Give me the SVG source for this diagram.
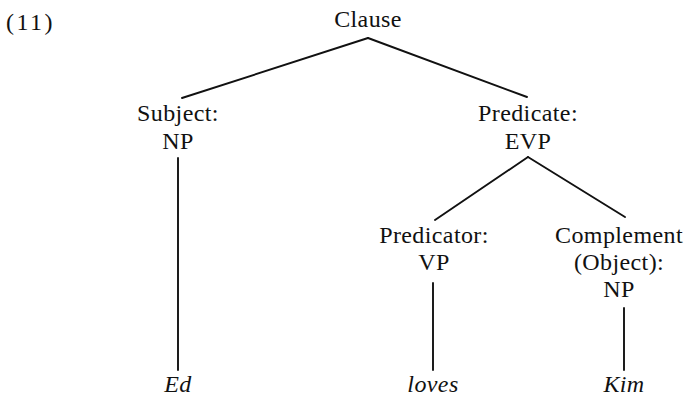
<svg xmlns="http://www.w3.org/2000/svg" width="690" height="396" viewBox="0 0 690 396">
  <style>
    text { font-family: "Liberation Serif", "Times New Roman", serif; font-size: 24px; fill: #111111; text-anchor: middle; letter-spacing: 0.4px; }
    .it { font-style: italic; }
    .num { text-anchor: start; font-size: 24px; letter-spacing: 2.5px; }
    .edge { stroke: #111111; stroke-width: 1.9; fill: none; stroke-linecap: round; }
  </style>
  <rect width="690" height="396" fill="#ffffff"/>

  <!-- example number -->
  <text class="num" x="6" y="30">(11)</text>

  <!-- tree branches -->
  <g id="edges">
    <line class="edge" x1="368" y1="38" x2="182" y2="98"/>
    <line class="edge" x1="368" y1="38" x2="527" y2="97"/>
    <line class="edge" x1="528" y1="157" x2="435" y2="220"/>
    <line class="edge" x1="528" y1="157" x2="625" y2="217"/>
    <line class="edge" x1="178" y1="158" x2="178" y2="370"/>
    <line class="edge" x1="433" y1="283" x2="433" y2="370"/>
    <line class="edge" x1="624" y1="308" x2="624" y2="370"/>
  </g>

  <g id="clause">
    <text x="368" y="27">Clause</text>
  </g>
  <g id="subject">
    <text x="178" y="121">Subject:</text>
    <text x="178" y="149">NP</text>
  </g>
  <g id="predicate">
    <text x="528" y="121">Predicate:</text>
    <text x="528" y="149">EVP</text>
  </g>
  <g id="predicator">
    <text x="434" y="243">Predicator:</text>
    <text x="434" y="270">VP</text>
  </g>
  <g id="complement">
    <text x="619" y="243">Complement</text>
    <text x="619" y="270">(Object):</text>
    <text x="619" y="297">NP</text>
  </g>
  <g id="ed">
    <text class="it" x="178" y="392">Ed</text>
  </g>
  <g id="loves">
    <text class="it" x="433" y="392">loves</text>
  </g>
  <g id="kim">
    <text class="it" x="624" y="392">Kim</text>
  </g>
</svg>
